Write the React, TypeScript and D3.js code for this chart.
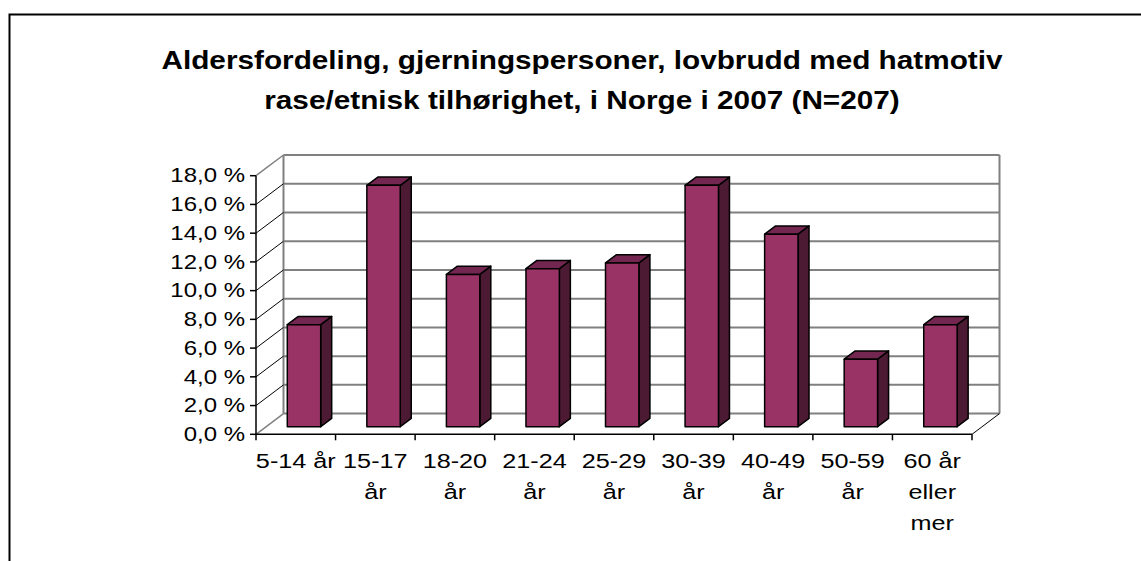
import * as d3 from "d3";

// Chart data (percent of N=207)
const categories = ["5-14 år", "15-17 år", "18-20 år", "21-24 år", "25-29 år", "30-39 år", "40-49 år", "50-59 år", "60 år eller mer"];
const categoryLines = [["5-14 år"], ["15-17", "år"], ["18-20", "år"], ["21-24", "år"], ["25-29", "år"], ["30-39", "år"], ["40-49", "år"], ["50-59", "år"], ["60 år", "eller", "mer"]];
const shares = [7.1, 16.8, 10.6, 11.0, 11.4, 16.8, 13.4, 4.7, 7.1];
const yTicks = [0, 2, 4, 6, 8, 10, 12, 14, 16, 18];
const titleLines = ["Aldersfordeling, gjerningspersoner, lovbrudd med hatmotiv", "rase/etnisk tilhørighet, i Norge i 2007 (N=207)"];

const width = 1141;
const height = 561;
const font = "'Liberation Sans', Arial, sans-serif";
const SX = 1.2; // text looks horizontally stretched in the original

// 3D look: depth vector of the walls, bar depth
const DX = 27.5;
const DY = -20.7;
const d0 = 0.367;
const d1 = 0.767;

const front = "#993366";
const side = "#4d1a33";
const top = "#732650";
const grid = "#808080";

const fmt = (v: number) => `${v.toFixed(1).replace(".", ",")} %`;

const App = () => {
  const x = d3.scaleBand<string>().domain(categories).range([256, 972]);
  const y = d3.scaleLinear().domain([0, 18]).range([434.3, 175.7]);
  const bw = 33.4;
  const bdx = (d1 - d0) * DX;
  const bdy = (d1 - d0) * DY;
  const [x0, x1] = x.range();

  return (
    <svg width={width} height={height} style={{ position: "absolute", left: 0, top: 0, background: "#fff" }}>
      <rect x={9.5} y={14.5} width={1200} height={600} fill="#fff" stroke="#000" strokeWidth={2} />

      {/* title */}
      {titleLines.map((t, i) => (
        <text key={i} transform={`translate(582,${60 + i * 40}) scale(1.19,1)`} textAnchor="middle" dominantBaseline="central"
          fontFamily={font} fontWeight="bold" fontSize={25}>{t}</text>
      ))}

      {/* back wall grid */}
      {yTicks.map(t => (
        <line key={t} x1={x0 + DX} x2={x1 + DX} y1={y(t) + DY} y2={y(t) + DY} stroke={grid} strokeWidth={2} />
      ))}
      <line x1={x0 + DX} x2={x0 + DX} y1={y(0) + DY} y2={y(18) + DY} stroke={grid} strokeWidth={2} />
      <line x1={x1 + DX} x2={x1 + DX} y1={y(0) + DY} y2={y(18) + DY} stroke={grid} strokeWidth={2} />

      {/* side wall diagonals */}
      {yTicks.map(t => (
        <line key={t} x1={x0} x2={x0 + DX} y1={y(t)} y2={y(t) + DY}
          stroke={t === 0 || t === 18 ? grid : "#000"} strokeWidth={t === 0 || t === 18 ? 1.5 : 1} />
      ))}
      <line x1={x1} x2={x1 + DX} y1={y(0)} y2={y(0) + DY} stroke="#000" strokeWidth={1} />

      {/* axes */}
      <line x1={x0} x2={x0} y1={y(0)} y2={y(18)} stroke="#000" strokeWidth={1.5} />
      <line x1={x0} x2={x1} y1={y(0)} y2={y(0)} stroke="#000" strokeWidth={1.5} />
      {yTicks.map(t => (
        <g key={t}>
          <line x1={x0 - 6} x2={x0} y1={y(t)} y2={y(t)} stroke="#000" strokeWidth={1.5} />
          <text transform={`translate(245,${y(t)}) scale(${SX},1)`} textAnchor="end" dominantBaseline="central"
            fontFamily={font} fontSize={20}>{fmt(t)}</text>
        </g>
      ))}
      {[...categories.map(c => x(c) as number), x1].map((p, i) => (
        <line key={i} x1={p} x2={p} y1={y(0)} y2={y(0) + 6} stroke="#000" strokeWidth={1.5} />
      ))}
      {categories.map((c, i) => (
        <g key={c}>
          {categoryLines[i].map((l, j) => (
            <text key={j} transform={`translate(${(x(c) as number) + x.bandwidth() / 2},${461 + j * 31}) scale(${SX},1)`}
              textAnchor="middle" dominantBaseline="central" fontFamily={font} fontSize={21}>{l}</text>
          ))}
        </g>
      ))}

      {/* bars */}
      {categories.map((c, i) => {
        const fx = (x(c) as number) + 21.2 + d0 * DX;
        const ft = y(shares[i]) + d0 * DY;
        const fb = y(0) + d0 * DY;
        return (
          <g key={c} stroke="#000" strokeWidth={1.5} strokeLinejoin="round">
            <polygon fill={side} points={`${fx + bw},${ft} ${fx + bw + bdx},${ft + bdy} ${fx + bw + bdx},${fb + bdy} ${fx + bw},${fb}`} />
            <polygon fill={top} points={`${fx},${ft} ${fx + bdx},${ft + bdy} ${fx + bw + bdx},${ft + bdy} ${fx + bw},${ft}`} />
            <rect x={fx} y={ft} width={bw} height={fb - ft} fill={front} />
          </g>
        );
      })}
    </svg>
  );
};

export default App;
